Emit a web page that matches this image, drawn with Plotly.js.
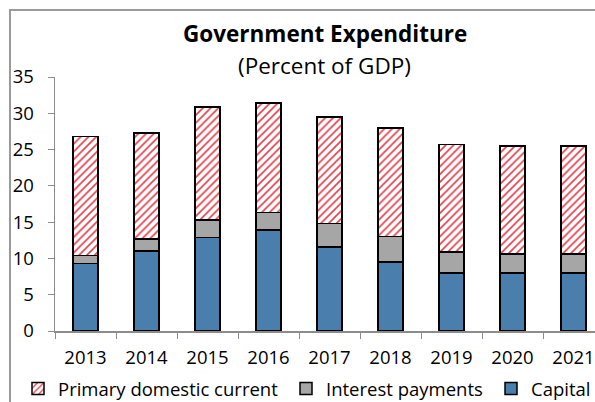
<!DOCTYPE html>
<html><head><meta charset="utf-8">
<script src="https://cdn.plot.ly/plotly-3.0.1.min.js"></script>
<style>
html,body{margin:0;padding:0;width:595px;height:402px;overflow:hidden;background:#fff;}
#frame{position:absolute;left:9px;top:9px;width:700px;height:500px;border-left:2px solid #9a9a9a;border-top:2px solid #9a9a9a;}
#chart{position:absolute;left:0;top:0;width:700px;height:402px;}
</style></head>
<body>
<div id="frame"></div>
<div id="chart"></div>
<script>
const years = ['2013','2014','2015','2016','2017','2018','2019','2020','2021'];
const capital = [9.3, 11.0, 12.9, 13.9, 11.6, 9.5, 8.0, 8.0, 8.0];
const interest = [1.1, 1.7, 2.4, 2.4, 3.2, 3.5, 2.9, 2.6, 2.6];
const primaryCurrent = [16.4, 14.6, 15.6, 15.1, 14.7, 15.0, 14.8, 14.9, 14.9];
const yTicks = [0, 5, 10, 15, 20, 25, 30, 35];

const fontFam = '"Open Sans", "Noto Sans", sans-serif';
const line = {color: '#000', width: 1.5};

const traces = [
  {type:'bar', name:'Capital', x: years, y: capital, legend:'legend3',
   marker:{color:'#4a7eac', line: line}},
  {type:'bar', name:'Interest payments', x: years, y: interest, legend:'legend2',
   marker:{color:'#a6a6a6', line: line}},
  {type:'bar', name:'Primary domestic current', x: years, y: primaryCurrent, legend:'legend',
   marker:{color:'#ffffff', line: line,
     pattern:{shape:'/', fgcolor:'#e3404c', bgcolor:'#ffffff', size:5.5, solidity:0.3}}}
];

const W = 700, H = 402;
const plotTop = 77, plotBottom = 331, plotH = plotBottom - plotTop;
const plotLeft = 55, plotRight = 604;
function leg(px) {
  return {orientation:'h', xref:'container', yref:'container',
    x: px/W, y: 1 - 370/H, xanchor:'left', yanchor:'top',
    font:{size:18.5, family: fontFam}, itemwidth: 30, bgcolor:'rgba(0,0,0,0)'};
}
const layout = {
  width: W, height: H,
  margin: {l:plotLeft, r:W - plotRight, t:plotTop, b:H - plotBottom},
  paper_bgcolor: 'rgba(0,0,0,0)', plot_bgcolor: 'rgba(0,0,0,0)',
  barmode: 'stack', bargap: 0.59,
  font: {family: fontFam, color: '#000', size: 18.5},
  showlegend: true,
  legend: leg(18), legend2: leg(286), legend3: leg(491),
  xaxis: {type:'category', tickson:'boundaries', ticks:'outside', ticklen:6, tickcolor:'#8c8c8c',
    showline:true, linecolor:'#8c8c8c', linewidth:1.5, showgrid:false,
    tickfont:{size:18.5}, ticklabelstandoff: 9, fixedrange:true},
  yaxis: {range:[0,35], tickvals: yTicks, ticks:'outside', ticklen:6, tickcolor:'#8c8c8c',
    showline:true, linecolor:'#8c8c8c', linewidth:1.5, showgrid:false, zeroline:false,
    tickfont:{size:18.5}, ticklabelstandoff: 10},
  annotations: [
    {text:'<b>Government Expenditure</b>', xref:'paper', yref:'paper', x:0.491, y:(plotBottom-33)/plotH,
     xanchor:'center', yanchor:'middle', showarrow:false, font:{size:22.5}},
    {text:'(Percent of GDP)', xref:'paper', yref:'paper', x:0.491, y:(plotBottom-65)/plotH,
     xanchor:'center', yanchor:'middle', showarrow:false, font:{size:22.5}}
  ]
};

Plotly.newPlot('chart', traces, layout, {staticPlot:true, displayModeBar:false});
</script>
</body></html>
